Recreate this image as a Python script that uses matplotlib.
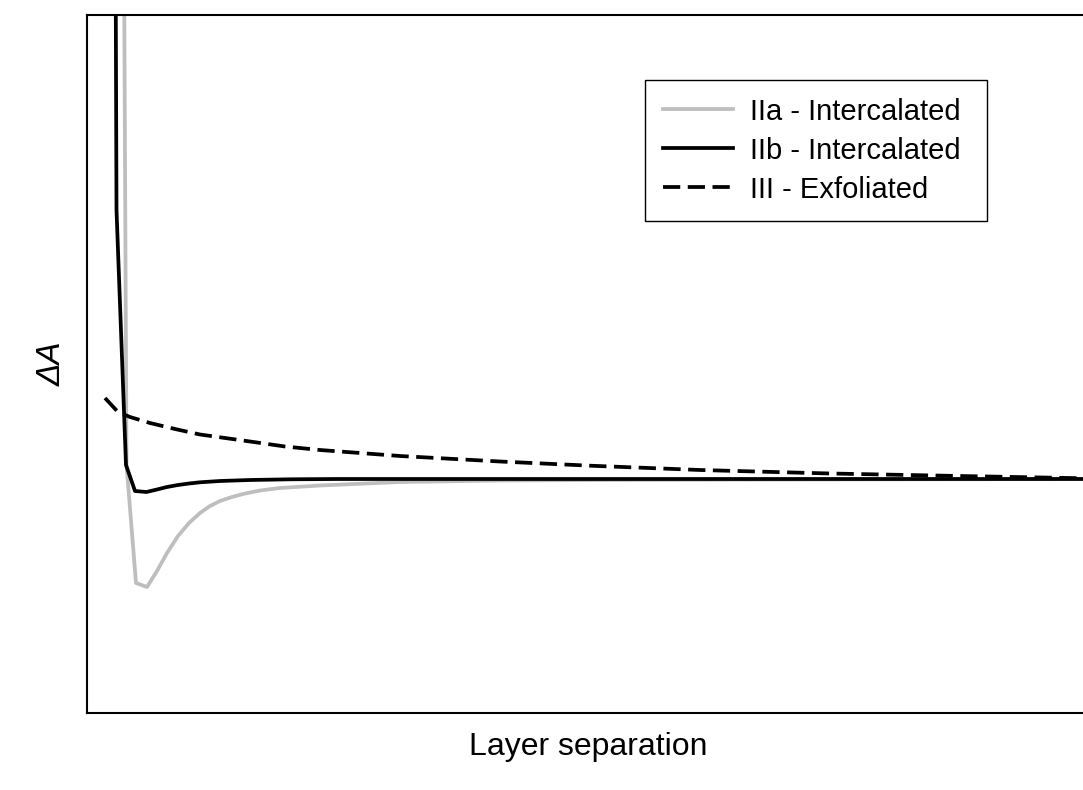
import matplotlib
matplotlib.use("Agg")
import matplotlib.pyplot as plt

# Layer separation (arbitrary units) and free-energy change for each morphology
sep_IIa = [0.18, 0.29, 0.395, 0.49, 0.60, 0.70, 0.80, 0.91, 1.02, 1.13, 1.23, 1.33, 1.45,
           1.58, 1.73, 1.93, 2.33, 3.13, 4.13, 5.13, 7.13, 10.1]
dA_IIa = [80.0, 21.6, 0.14, -1.04, -1.08, -0.92, -0.74, -0.57, -0.44, -0.34, -0.27, -0.22,
          -0.18, -0.145, -0.115, -0.09, -0.065, -0.03, -0.015, -0.01, -0.005, 0.0]

sep_IIb = [0.18, 0.295, 0.39, 0.48, 0.595, 0.70, 0.80, 0.91, 1.02, 1.13, 1.33, 1.63,
           2.03, 2.50, 4.00, 6.00, 8.00, 10.1]
dA_IIb = [35.0, 2.69, 0.14, -0.12, -0.13, -0.105, -0.08, -0.06, -0.045, -0.033, -0.02, -0.01,
          -0.003, 0.0, 0.0, 0.0, 0.0, 0.0]

sep_III = [0.18, 0.31, 0.43, 0.63, 0.88, 1.13, 1.63, 1.98, 2.33, 3.13, 4.13, 5.03,
           6.13, 7.43, 8.73, 10.1]
dA_III = [0.81, 0.67, 0.62, 0.56, 0.50, 0.445, 0.375, 0.325, 0.29, 0.23, 0.175, 0.133,
          0.09, 0.055, 0.03, 0.005]

labels = ["IIa - Intercalated", "IIb - Intercalated", "III - Exfoliated"]

plt.rcParams["font.family"] = ["Liberation Sans", "DejaVu Sans"]

fig = plt.figure(figsize=(10.83, 7.90), dpi=100)
ax = fig.add_axes([87 / 1083, 77 / 790, 1003 / 1083, 698 / 790])

lw = 2.7
ax.plot(sep_IIa, dA_IIa, color="#bebebe", lw=lw, label=labels[0])
ax.plot(sep_IIb, dA_IIb, color="black", lw=lw, label=labels[1])
ax.plot(sep_III, dA_III, color="black", lw=lw, ls=(0, (4.6, 2.0)), label=labels[2])

ax.set_xlim(0, 10.03)
ax.set_ylim(-2.34, 4.64)
ax.set_xticks([])
ax.set_yticks([])
for sp in ax.spines.values():
    sp.set_linewidth(1.5)

ax.set_xlabel("Layer separation", fontsize=23, labelpad=14)
ax.set_ylabel("ΔA", fontsize=24, style="italic", labelpad=14)

# Legend frame spans a fixed box in figure pixels
x0, x1 = 645 / 1083, 987 / 1083
y1 = 1 - 80 / 790
leg = ax.legend(loc="upper left", bbox_to_anchor=(x0, y1 - 0.2, x1 - x0, 0.2),
                mode="expand", bbox_transform=fig.transFigure, borderaxespad=0,
                fontsize=21, handlelength=2.4, handletextpad=0.6, labelspacing=0.38,
                borderpad=0.6, fancybox=False, framealpha=1, edgecolor="black")
leg.get_frame().set_linewidth(1.0)

fig.savefig("out.png", dpi=100)
